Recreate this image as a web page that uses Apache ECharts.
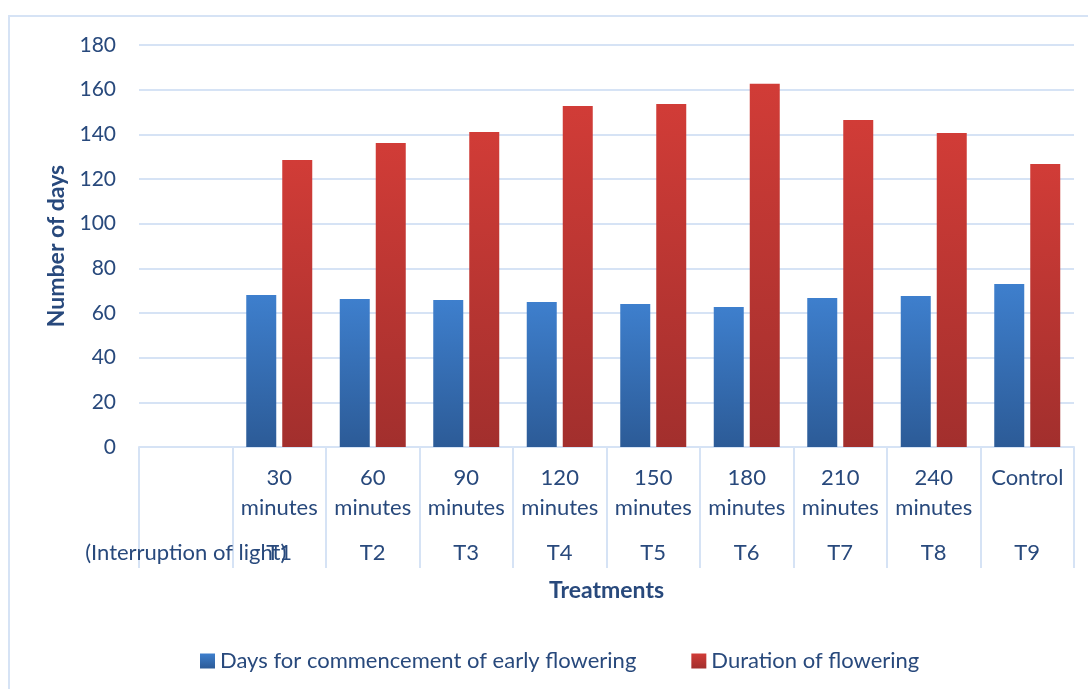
<!DOCTYPE html>
<html>
<head>
<meta charset="utf-8">
<script src="https://cdn.jsdelivr.net/npm/echarts@6/dist/echarts.min.js"></script>
<style>
  html, body { margin: 0; padding: 0; background: #fff; }
  #chart { width: 1088px; height: 689px; }
</style>
</head>
<body>
<div id="chart"></div>
<script>
// treatment labels, first slot is the empty row-header cell
const timeLabels = ['', '30\nminutes', '60\nminutes', '90\nminutes', '120\nminutes', '150\nminutes', '180\nminutes', '210\nminutes', '240\nminutes', 'Control']
const treatmentCodes = ['(Interruption of light)', 'T1', 'T2', 'T3', 'T4', 'T5', 'T6', 'T7', 'T8', 'T9']

const earlyFlowering = [null, 68.1, 66.3, 65.8, 64.9, 64.0, 62.7, 66.7, 67.6, 73.0]
const floweringDuration = [null, 128.5, 136.1, 141.1, 152.7, 153.6, 162.6, 146.4, 140.6, 126.7]

const yTicks = { min: 0, max: 180, interval: 20 }

const textColor = '#28497c'
const lineColor = '#d6e3f5'
const fontFamily = 'Lato, "Open Sans", sans-serif'

const gradient = (top, bottom) => new echarts.graphic.LinearGradient(0, 0, 0, 1, [
  { offset: 0, color: top },
  { offset: 1, color: bottom }
])

const getOption = () => {
  return {
    textStyle: { fontFamily: fontFamily, color: textColor },
    animation: false,
    graphic: [
      {
        type: 'rect',
        shape: { x: 9, y: 16, width: 1100, height: 700 },
        style: { fill: 'none', stroke: lineColor, lineWidth: 2 },
        silent: true
      }
    ],
    grid: {
      left: 139,
      right: 14,
      top: 45,
      bottom: 242
    },
    legend: {
      left: 195,
      top: 645,
      itemWidth: 15,
      itemHeight: 15,
      itemGap: 55,
      icon: 'rect',
      textStyle: { fontSize: 22, color: textColor, fontFamily: fontFamily },
      data: ['Days for commencement of early flowering', 'Duration of flowering']
    },
    xAxis: [
      {
        type: 'category',
        data: timeLabels,
        name: 'Treatments',
        nameLocation: 'middle',
        nameGap: 132,
        nameTextStyle: { fontSize: 23, fontWeight: 'bold', color: textColor, fontFamily: fontFamily, verticalAlign: 'top' },
        axisLine: { lineStyle: { color: lineColor, width: 2 } },
        axisTick: { show: true, length: 121, lineStyle: { color: lineColor, width: 2 } },
        axisLabel: { interval: 0, fontSize: 22, lineHeight: 30, margin: 16, color: textColor }
      },
      {
        type: 'category',
        data: treatmentCodes,
        position: 'bottom',
        axisLine: { show: false },
        axisTick: { show: false },
        axisLabel: { interval: 0, fontSize: 22, lineHeight: 30, margin: 91, color: textColor }
      }
    ],
    yAxis: {
      type: 'value',
      min: yTicks.min,
      max: yTicks.max,
      interval: yTicks.interval,
      name: 'Number of days',
      nameLocation: 'middle',
      nameGap: 65,
      nameTextStyle: { fontSize: 23, fontWeight: 'bold', color: textColor, fontFamily: fontFamily },
      axisLine: { show: false },
      axisTick: { show: false },
      axisLabel: { fontSize: 21, margin: 23, color: textColor },
      splitLine: { lineStyle: { color: lineColor, width: 2 } }
    },
    series: [
      {
        name: 'Days for commencement of early flowering',
        type: 'bar',
        data: earlyFlowering,
        barWidth: 30,
        barGap: '20%',
        itemStyle: { color: gradient('#3e7fcd', '#2c5b97') }
      },
      {
        name: 'Duration of flowering',
        type: 'bar',
        data: floweringDuration,
        barWidth: 30,
        itemStyle: { color: gradient('#d13c37', '#a22f2d') }
      }
    ]
  }
}

const chart = echarts.init(document.getElementById('chart'))
chart.setOption(getOption())
</script>
</body>
</html>
